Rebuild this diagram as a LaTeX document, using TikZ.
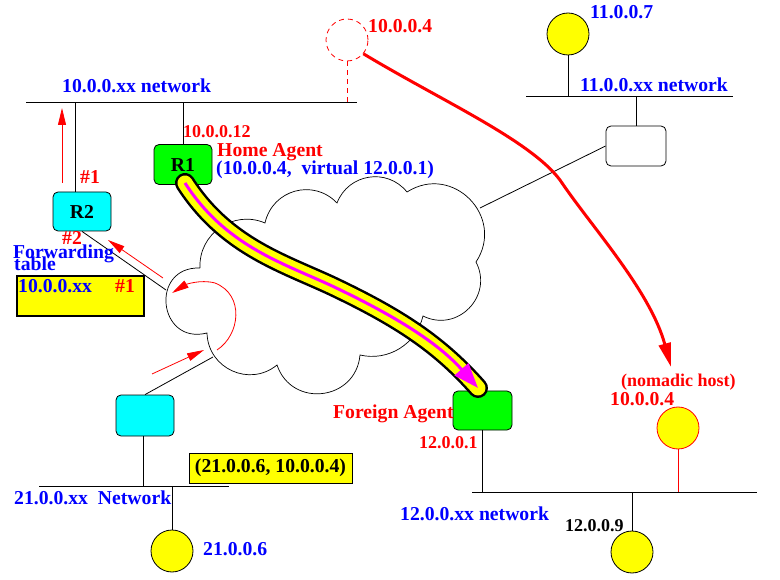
\documentclass[tikz,border=0pt]{standalone}
\usepackage{fontspec}
\setmainfont{Liberation Serif}
\usetikzlibrary{arrows.meta}
\definecolor{aqua}{RGB}{0,255,255}
\definecolor{lemon}{RGB}{255,255,0}
\definecolor{pink}{RGB}{255,0,255}
\definecolor{lime}{RGB}{0,255,0}

\begin{document}
\begin{tikzpicture}[x=1pt, y=-1pt,
  router/.style={draw, line width=0.8pt, rounded corners=5pt, minimum width=58pt, minimum height=40pt, inner sep=0pt, font=\fontsize{19.7}{19.7}\selectfont\bfseries},
  host/.style={draw, line width=0.8pt, circle, fill=lemon, minimum size=42pt, inner sep=0pt},
  big/.style={inner sep=0pt, anchor=base west, font=\fontsize{19.7}{19.7}\selectfont\bfseries},
  small/.style={inner sep=0pt, anchor=base west, font=\fontsize{18}{18}\selectfont\bfseries},
  net/.style={line width=1pt},
  link/.style={line width=0.8pt},
  cloudline/.style={line width=0.7pt},
  redarrow/.style={red, line width=0.8pt, -{Triangle[length=17pt, width=8pt]}},
]
\useasboundingbox (0,0) rectangle (780,580);

% networks
\coordinate (n10w) at (26,103);  \coordinate (n10e) at (357,103);
\coordinate (n11w) at (526,97);  \coordinate (n11e) at (733,97);
\coordinate (n21w) at (39,486);  \coordinate (n21e) at (229,486);
\coordinate (n12w) at (472,492); \coordinate (n12e) at (757,492);
\draw[net] (n10w) -- (n10e);
\draw[net] (n11w) -- (n11e);
\draw[net] (n21w) -- (n21e);
\draw[net] (n12w) -- (n12e);

% the internet cloud
\coordinate (c1) at (200,268);
\coordinate (c2) at (265,223);
\coordinate (c3) at (337,203);
\coordinate (c4) at (407,192);
\coordinate (c5) at (476,262);
\coordinate (c6) at (423,316);
\coordinate (c7) at (360,355);
\coordinate (c8) at (277,365);
\coordinate (c9) at (207,333);
\draw[cloudline] (c1) to[bend left=58, looseness=1.11] (c2)
  to[bend left=62, looseness=1.17] (c3)
  to[bend left=60, looseness=1.14] (c4)
  to[bend left=78, looseness=1.41] (c5)
  to[bend left=72, looseness=1.3] (c6)
  to[bend left=45, looseness=1] (c7)
  to[bend left=78, looseness=1.41] (c8)
  to[bend left=64, looseness=1.18] (c9)
  to[bend left=98, looseness=1.98] (c1);

% routers and hosts
\node[router, fill=lime] (ha) at (183,164.5) {R1};
\node[router, fill=aqua, minimum height=39pt] (r2) at (82,211.5) {R2};
\node[router, fill=aqua, minimum height=41pt] (rb) at (145,415.5) {};
\node[router, fill=lime, minimum width=59pt, minimum height=39pt] (fa) at (482.5,410.5) {};
\node[router, fill=white, minimum width=60pt] (rt) at (636,146) {};
\node[host] (h11) at (568,34) {};
\node[host] (h21) at (172,551) {};
\node[host] (h12) at (632,552) {};
\node[host, draw=red] (mh) at (678,428) {};
\node[host, draw=red, fill=none, dash pattern=on 5pt off 4pt] (mh0) at (347,40) {};

% drops to the networks
\draw[link] (ha.north) -- (ha.north |- n10w);
\draw[link] ([xshift=-7pt]r2.north) -- ([xshift=-7pt]r2.north |- n10w);
\draw[link, red, dash pattern=on 5pt off 4pt] (mh0.south) -- (mh0.south |- n10w);
\draw[link] (h11.south) -- (h11.south |- n11w);
\draw[link] (rt.north) -- (rt.north |- n11w);
\draw[link] ([xshift=-2pt]rb.south) -- ([xshift=-2pt]rb.south |- n21w);
\draw[link] (h21.north) -- (h21.north |- n21w);
\draw[link] (fa.south) -- (fa.south |- n12w);
\draw[link] (h12.north) -- (h12.north |- n12w);
\draw[link, red] (mh.south) -- (mh.south |- n12w);

% links into the cloud
\coordinate (cl) at (166,290);
\coordinate (cb) at (213,357);
\coordinate (cr) at (480,208);
\draw[link] (r2.south) -- (cl);
\draw[link] (rb.north) -- (cb);
\draw[link] (rt.west) -- (cr);

% forwarding arrows
\coordinate (a1) at (62,183);  \coordinate (a1e) at (62,108);
\coordinate (a2) at (163,278); \coordinate (a2e) at (108,240);
\coordinate (a3) at (152,374); \coordinate (a3e) at (204,350);
\coordinate (lp) at (217,350); \coordinate (lpe) at (172,293);
\draw[redarrow] (a1) -- (a1e);
\draw[redarrow] (a2) -- (a2e);
\draw[redarrow] (a3) -- (a3e);
\draw[redarrow] (lp) .. controls (240,335) and (245,295) .. (215,283)
  .. controls (200,279) and (185,285) .. (lpe);

% tunnel from home agent to foreign agent
\coordinate (t0) at (185,183);
\coordinate (t1) at (330,285);
\coordinate (t2) at (478,388);
\foreach \w/\c in {20/black, 15/lemon}
  \draw[line width=\w pt, \c, line cap=round] (t0) .. controls (225,245) and (280,262) .. (t1)
    .. controls (400,318) and (440,345) .. (t2);
\draw[pink, line width=3pt, -{Triangle[length=25pt, width=18pt]}] (t0)
  .. controls (225,245) and (280,262) .. (t1) .. controls (400,318) and (440,345) .. (t2);

% host moves
\coordinate (mv1) at (560,180);
\coordinate (mv2) at (671,367);
\draw[red, line width=3pt, -{Triangle[length=24pt, width=12pt]}] (mh0.-40)
  .. controls (440,100) and (530,140) .. (mv1) .. controls (590,225) and (650,290) .. (mv2);

% labels
\node[big, blue] (l10) at (62,93) {10.0.0.xx network};
\node[small, red] (lha) at (183,138) {10.0.0.12};
\node[big, red] (lhome) at (217,157) {Home Agent};
\node[big, blue] (lvirt) at (216,175) {(10.0.0.4,\ \ virtual 12.0.0.1)};
\node[big, red] (lp1) at (80,184) {\#1};
\node[big, red] (lp2) at (62,245) {\#2};
\node[big, blue] (lfw) at (13,259) {Forwarding};
\node[big, blue] (ltab) at (14,271) {table};
\node[draw, line width=2pt, fill=lemon, minimum width=127pt, minimum height=40pt,
  anchor=north west, inner sep=0pt] (ftab) at (16,275) {};
\node[big, blue] (fnet) at (18,293) {10.0.0.xx};
\node[big, red] (fif) at (115,293) {\#1};
\node[draw, link, fill=lemon, minimum width=163pt, minimum height=30pt, inner sep=0pt,
  font=\fontsize{19.7}{19.7}\selectfont\bfseries] (pkt) at (270.5,468) {(21.0.0.6, 10.0.0.4)};
\node[big, blue] (l21) at (14,504) {21.0.0.xx\ \ Network};
\node[big, blue] (lh21) at (203,555) {21.0.0.6};
\node[big, red] (lfa) at (333,418) {Foreign Agent};
\node[small, red] (lfaip) at (419,448) {12.0.0.1};
\node[big, blue] (l12) at (400,520) {12.0.0.xx network};
\node[small] (lh12) at (565,531) {12.0.0.9};
\node[small, red] (lnom) at (621,386) {(nomadic host)};
\node[big, red] (lmh) at (610,406) {10.0.0.4};
\node[big, blue] (lh11) at (590,19) {11.0.0.7};
\node[big, blue] (l11) at (580,92) {11.0.0.xx network};
\node[big, red] (lmh0) at (368,33) {10.0.0.4};
\end{tikzpicture}
\end{document}
